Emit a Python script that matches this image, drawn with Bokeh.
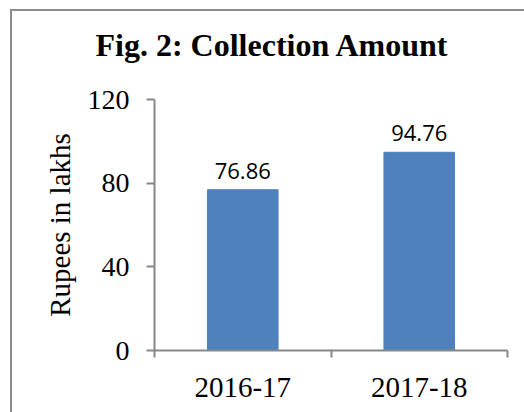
from bokeh.plotting import figure
from bokeh.models import FixedTicker, Range1d, ColumnDataSource, Title
from bokeh.core.properties import value
from bokeh.embed import file_html
from bokeh.resources import INLINE

# ---- data ----
categories = ["2016-17", "2017-18"]
amounts = [76.86, 94.76]
y_ticks = [0, 40, 80, 120]
title_text = "Fig. 2:  Collection Amount"
y_label_text = "Rupees in lakhs"

W, H = 524, 412
FL, FR, FT, FB = 154, 17, 99, 62

p = figure(width=W, height=H, output_backend="svg", toolbar_location=None,
           x_range=Range1d(0, len(categories)), y_range=Range1d(0, 120),
           min_border_left=FL, min_border_right=FR, min_border_top=FT,
           min_border_bottom=FB, title=title_text)
p.outline_line_color = None
p.grid.visible = False
p.background_fill_color = None
p.border_fill_color = None
g = "linear-gradient(#8c8c8c,#8c8c8c)"
p.styles = {"background": f"{g} 10px 9px / 2px 100% no-repeat, "
                          f"{g} 10px 9px / 100% 2px no-repeat, white"}

# spacer between the title and the plot frame
p.add_layout(Title(text=" ", text_font_size="20px", standoff=0), "above")

p.title.align = "left"
p.title.offset = -59
p.title.text_font = "Liberation Serif"
p.title.text_font_style = "bold"
p.title.text_font_size = "32px"
p.title.text_color = "black"
p.title.standoff = 25

xs = [i + 0.5 for i in range(len(categories))]
src = ColumnDataSource(dict(x=xs, top=amounts, cat=categories,
                            lab=[f"{v:.2f}" for v in amounts]))
p.vbar(x="x", top="top", width=0.4, bottom=0, source=src,
       fill_color="#4f81bd", line_color="#4f81bd", line_width=1)
p.text(x="x", y="top", text="lab", source=src, y_offset=-19,
       text_align="center", text_baseline="alphabetic",
       text_font=value("Open Sans"), text_font_size="22px", text_color="black")

axis_color = "#878787"
ya = p.yaxis[0]
ya.ticker = FixedTicker(ticks=y_ticks)
ya.axis_line_color = axis_color
ya.axis_line_width = 2
ya.major_tick_line_color = axis_color
ya.major_tick_line_width = 2
ya.major_tick_out = 8
ya.major_tick_in = 0
ya.minor_tick_line_color = None
ya.major_label_text_font = "Liberation Serif"
ya.major_label_text_font_size = "28px"
ya.major_label_text_color = "black"
ya.major_label_standoff = 17
ya.axis_label = y_label_text
ya.axis_label_text_font = "Liberation Serif"
ya.axis_label_text_font_style = "normal"
ya.axis_label_text_font_size = "29px"
ya.axis_label_text_color = "black"
ya.axis_label_standoff = 9

xa = p.xaxis[0]
xa.ticker = FixedTicker(ticks=xs, minor_ticks=list(range(len(categories) + 1)))
xa.major_label_overrides = {x: c for x, c in zip(xs, categories)}
xa.axis_line_color = axis_color
xa.axis_line_width = 2
xa.major_tick_line_color = None
xa.major_tick_out = 0
xa.major_tick_in = 0
xa.minor_tick_line_color = axis_color
xa.minor_tick_line_width = 2
xa.minor_tick_out = 7
xa.minor_tick_in = 0
xa.major_label_text_font = "Liberation Serif"
xa.major_label_text_font_size = "29px"
xa.major_label_text_color = "black"
xa.major_label_standoff = 20

open("out.html", "w").write(file_html(p, INLINE))
